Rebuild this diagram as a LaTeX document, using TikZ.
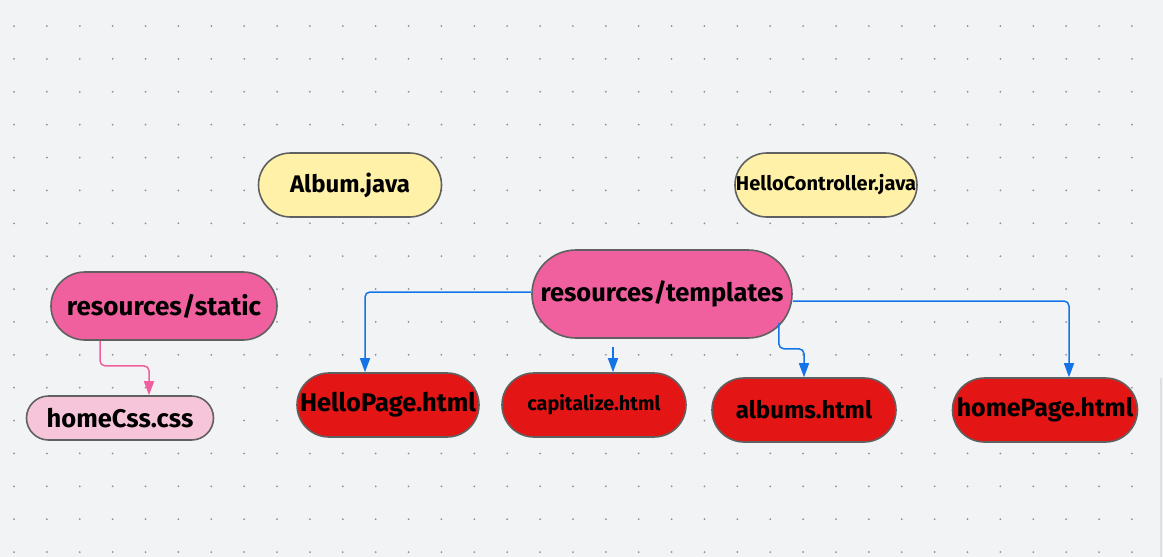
\documentclass[tikz,border=0pt]{standalone}
\usepackage{fontspec}
\setmainfont{Fira Sans}
\usepackage{xcolor}
\usepackage{tikz}
\usetikzlibrary{arrows.meta}
\definecolor{paper}{RGB}{242,243,245}
\definecolor{dotgray}{RGB}{140,144,154}
\definecolor{rim}{RGB}{96,96,96}
\definecolor{javayellow}{RGB}{255,241,168}
\definecolor{dirpink}{RGB}{240,96,158}
\definecolor{csspink}{RGB}{247,197,218}
\definecolor{htmlred}{RGB}{228,21,21}
\definecolor{linkblue}{RGB}{21,115,232}
\tikzstyle{pill}=[draw=rim,line width=1.6pt,inner sep=0pt,text=black,font=\bfseries]
\tikzstyle{javafile}=[pill,fill=javayellow]
\tikzstyle{folder}=[pill,fill=dirpink]
\tikzstyle{cssfile}=[pill,fill=csspink]
\tikzstyle{htmlfile}=[pill,fill=htmlred]
\tikzstyle{link}=[linkblue,line width=1.5pt,rounded corners=5pt,-{Triangle[width=10pt,length=14pt]}]
\tikzstyle{csslink}=[link,dirpink]

\begin{document}
\begin{tikzpicture}[x=1pt,y=-1pt]
        \fill [paper] (0,0) rectangle (1163,557);
        \useasboundingbox (0,0) rectangle (1163,557);
        \foreach \i in {0,...,34}
          \foreach \j in {0,...,16}
            \fill [dotgray] (14+32.88*\i,26+32.88*\j) circle (1pt);
        \draw [gray!25,line width=2pt] (1161,378) -- (1161,557);

        \node at ( 350,185) [javafile,minimum width=183pt,minimum height=64pt,rounded corners=32pt] (album) {\fontsize{24}{28}\selectfont Album.java};
        \node at ( 826,185) [javafile,minimum width=182pt,minimum height=64pt,rounded corners=32pt] (ctrl) {\fontsize{20}{23}\selectfont HelloController.java};
        \node at ( 662,294) [folder,minimum width=260pt,minimum height=88pt,rounded corners=44pt] (tpl) {\fontsize{25.5}{29}\selectfont resources/templates};
        \node at ( 164,306) [folder,minimum width=226pt,minimum height=68pt,rounded corners=34pt] (stat) {\fontsize{26}{30}\selectfont resources/static};
        \node at ( 120,418) [cssfile,minimum width=187pt,minimum height=44pt,rounded corners=22pt] (css) {\fontsize{25.5}{29}\selectfont homeCss.css};
        \node at ( 388,405) [htmlfile,minimum width=182pt,minimum height=64pt,rounded corners=32pt] (hello) {\fontsize{25.5}{29}\selectfont HelloPage.html};
        \node at ( 594,405) [htmlfile,minimum width=184pt,minimum height=64pt,rounded corners=32pt] (cap) {\fontsize{19.8}{23}\selectfont capitalize.html};
        \node at ( 804,410) [htmlfile,minimum width=184pt,minimum height=64pt,rounded corners=32pt] (alb) {\fontsize{24}{28}\selectfont albums.html};
        \node at (1045,410) [htmlfile,minimum width=185pt,minimum height=64pt,rounded corners=32pt] (home) {\fontsize{25}{29}\selectfont homePage.html};

        \coordinate (capin) at (613,347);
        \draw [link] ([yshift=2pt]tpl.west) -| ([xshift=-23pt]hello.north);
        \draw [link] (capin) -- (capin |- cap.north);
        \draw [link] ([xshift=-14pt,yshift=16pt]tpl.south east) -- ++(0,26) -| (alb.north);
        \draw [link] ([yshift=-7pt]tpl.east) -| ([xshift=24pt]home.north);
        \draw [csslink] ([xshift=-64pt]stat.south) -- ++(0,25) -| ([xshift=29pt]css.north);
      \end{tikzpicture}
\end{document}
